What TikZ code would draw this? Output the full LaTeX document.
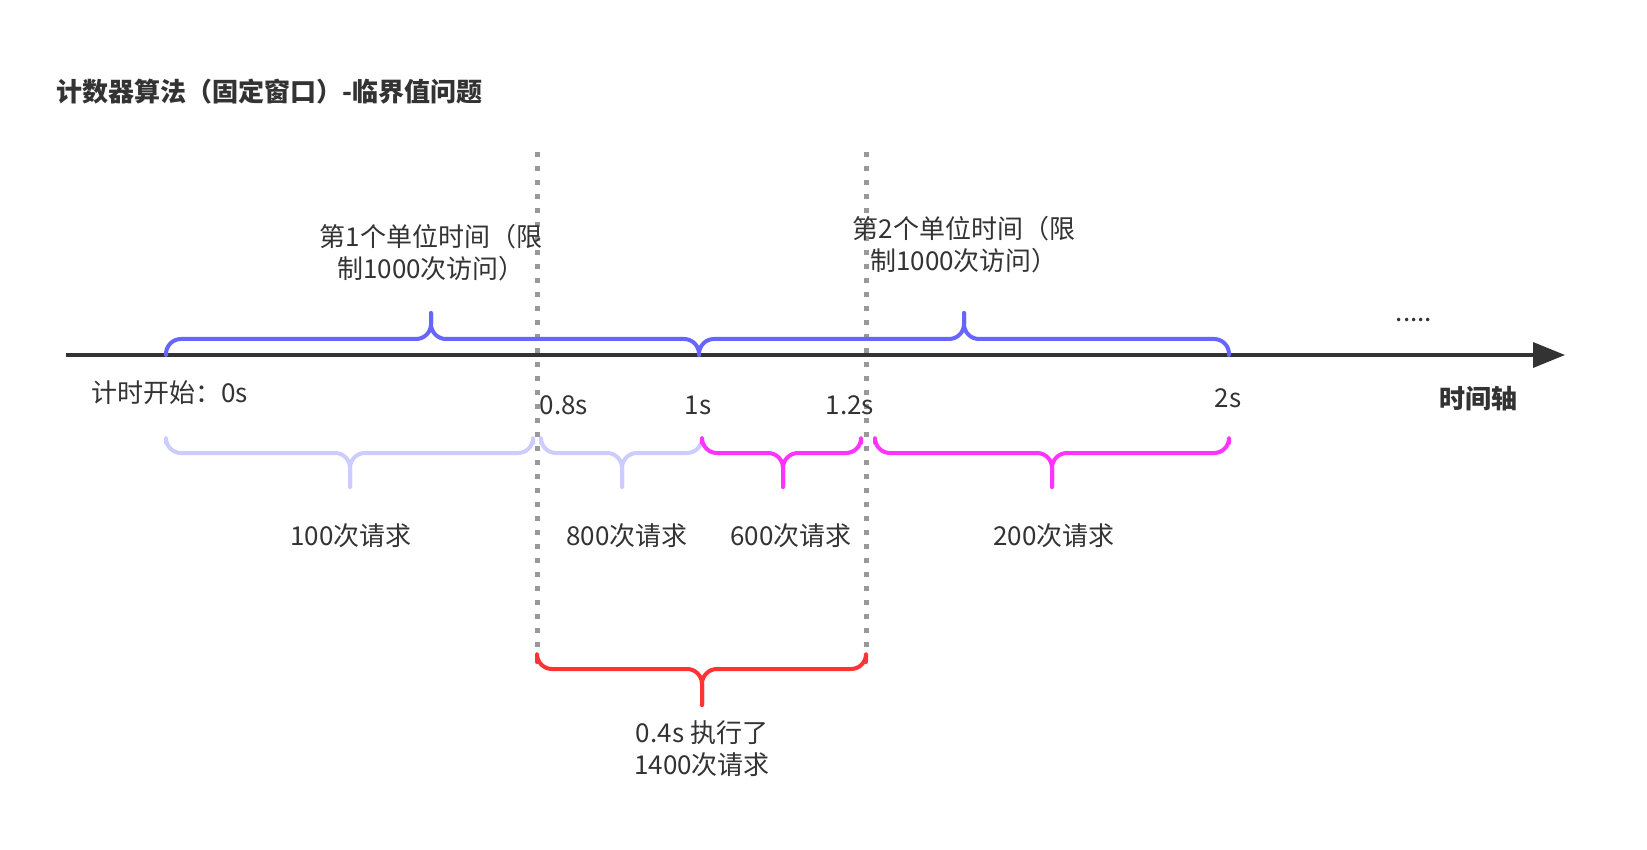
\documentclass[tikz,border=0pt]{standalone}
\usepackage{fontspec}
\setmainfont{Noto Sans CJK SC}
\usetikzlibrary{arrows.meta}
\definecolor{axisgray}{HTML}{333333}
\definecolor{dotgray}{HTML}{999999}
\definecolor{winblue}{HTML}{6666FF}
\definecolor{reqlight}{HTML}{CCCCFF}
\definecolor{reqpink}{HTML}{FF33FF}
\definecolor{burstred}{HTML}{FF3333}
\tikzset{
  lbl/.style={font=\fontsize{26}{32}\selectfont, text=axisgray, align=center, inner sep=0pt},
  boldlbl/.style={lbl, font=\fontsize{26}{32}\selectfont\bfseries},
  bracepen/.style={line width=4pt, line cap=round, line join=round, rounded corners=15pt},
  windowline/.style={dotgray, line width=5pt, dash pattern=on 5pt off 9pt},
}
% brace: colour, left x, right x, tip x, end y, flat y, tip y
\newcommand{\timebrace}[7]{%
  \draw[bracepen,#1] (#2,#5) -- (#2,#6) -- (#4,#6) -- (#4,#7);
  \draw[bracepen,#1] (#4,#7) -- (#4,#6) -- (#3,#6) -- (#3,#5);}
\begin{document}
\begin{tikzpicture}[x=1pt,y=-1pt]
  \useasboundingbox[fill=white] (0,0) rectangle (1647,850);
  \node[boldlbl,anchor=west] (title) at (56,92) {计数器算法（固定窗口）-临界值问题};
  % time axis
  \coordinate (axisL) at (66,355);
  \coordinate (axisR) at (1565,355);
  \draw[axisgray,line width=3.5pt,-{Triangle[length=32pt,width=25pt]}] (axisL) -- (axisR);
  % window borders
  \draw[windowline] (537,152) -- (537,650);
  \draw[windowline] (866,152) -- (866,650);
  % unit windows
  \timebrace{winblue}{166}{699}{431}{355}{339}{313}
  \timebrace{winblue}{699}{1229}{964}{355}{339}{313}
  \node[lbl] (unit1) at (431,253) {第1个单位时间（限\\制1000次访问）};
  \node[lbl] (unit2) at (964,245) {第2个单位时间（限\\制1000次访问）};
  \node[lbl] (more) at (1414,320) {.....};
  % ticks
  \node[lbl,anchor=west] (t0) at (91,393) {计时开始：0s};
  \node[lbl] (t08) at (564,405) {0.8s};
  \node[lbl] (t1) at (698,405) {1s};
  \node[lbl] (t12) at (850,405) {1.2s};
  \node[lbl] (t2) at (1228,398) {2s};
  \node[boldlbl] (axisname) at (1478,399) {时间轴};
  % requests
  \timebrace{reqlight}{166}{533}{350}{443}{453}{487}
  \timebrace{reqlight}{541}{702}{622}{443}{453}{487}
  \timebrace{reqpink}{702}{861}{783}{443}{453}{487}
  \timebrace{reqpink}{875}{1229}{1052}{443}{453}{487}
  \node[lbl] (r100) at (351,536) {100次请求};
  \node[lbl] (r800) at (627,536) {800次请求};
  \node[lbl] (r600) at (791,536) {600次请求};
  \node[lbl] (r200) at (1054,536) {200次请求};
  % critical span
  \timebrace{burstred}{537}{866}{702}{662}{669}{705}
  \node[lbl] (burst) at (702,749) {0.4s 执行了\\1400次请求};
\end{tikzpicture}
\end{document}
